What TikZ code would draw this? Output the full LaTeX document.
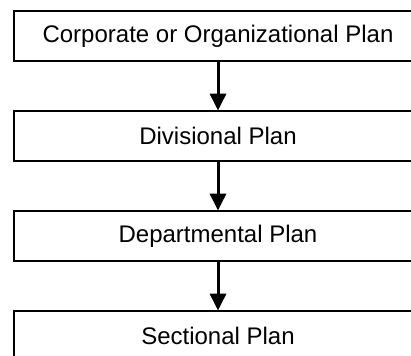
\documentclass[tikz,border=0pt]{standalone}
\usepackage{fontspec}
\setmainfont{Liberation Sans}
\usetikzlibrary{arrows.meta,positioning}

\begin{document}
\begin{tikzpicture}[x=0.75pt,y=0.75pt,yscale=-1,xscale=1,
  planbox/.style={draw,line width=1.4pt,minimum width=305.5pt,minimum height=37pt,inner sep=0pt,font=\fontsize{18pt}{21pt}\selectfont},
  planarrow/.style={line width=2.25pt,-{Triangle[width=12pt,length=12.5pt]}}]
%set diagram left start at 0, and has height of 355
\useasboundingbox (0,0) rectangle (411,355);

%Shape: Rectangle [corp]
\node[planbox] (corp) at (218,36) {Corporate or Organizational Plan};
%Shape: Rectangle [div]
\node[planbox] (div) at (218,136) {Divisional Plan};
%Shape: Rectangle [dept]
\node[planbox] (dept) at (218,236) {Departmental Plan};
%Shape: Rectangle [sect]
\node[planbox] (sect) at (218,336) {Sectional Plan};

%Straight Lines
\draw[planarrow] (corp) -- (div);
\draw[planarrow] (div) -- (dept);
\draw[planarrow] (dept) -- (sect);

\end{tikzpicture}
\end{document}
